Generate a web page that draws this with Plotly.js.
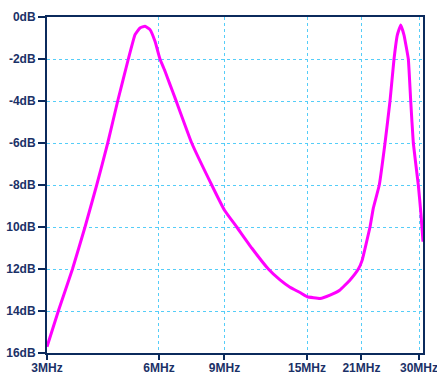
<!DOCTYPE html>
<html>
<head>
<meta charset="utf-8">
<script src="https://cdn.plot.ly/plotly-3.0.1.min.js"></script>
<style>html,body{margin:0;padding:0;background:#fff;}#chart{width:437px;height:376px;}</style>
</head>
<body>
<div id="chart"></div>
<script>
// Frequency in MHz
var freqMHz = [3.000, 3.218, 3.513, 3.796, 4.081, 4.369, 4.647, 4.963, 5.173, 5.335, 5.502, 5.675, 5.854, 6.037, 6.229, 6.424, 6.626, 7.347, 8.316, 9.000, 9.707, 10.651, 11.807, 12.690, 13.499, 14.359, 15.020, 16.260, 17.295, 18.400, 19.577, 20.610, 21.085, 22.150, 22.610, 23.460, 24.310, 25.070, 25.700, 26.230, 26.790, 27.340, 28.080, 28.500, 28.960, 29.870, 30.370, 30.750];
// Magnitude in dB
var magDB = [-15.7, -14.0, -12.0, -10.0, -8.0, -6.0, -4.0, -2.0, -0.84, -0.52, -0.44, -0.6, -1.16, -2.0, -2.58, -3.22, -3.85, -6.0, -8.0, -9.2, -10.0, -11.0, -12.0, -12.52, -12.87, -13.12, -13.32, -13.4, -13.24, -13.0, -12.52, -12.0, -11.6, -10.0, -9.1, -8.0, -6.0, -4.0, -2.0, -0.86, -0.38, -0.86, -2.0, -4.0, -6.0, -8.0, -9.4, -10.7];

var xTickVals = [3, 6, 9, 15, 21, 30];
var xTickText = ['3MHz', '6MHz', '9MHz', '15MHz', '21MHz', '30MHz'];
var yTickVals = [0, -2, -4, -6, -8, -10, -12, -14, -16];
var yTickText = ['0dB', '-2dB', '-4dB', '-6dB', '-8dB', '10dB', '12dB', '14dB', '16dB'];

var axisColor = '#0b2a5c';
var textColor = '#1b3167';
var gridColor = '#55cdf8';
var tickFont = {family: 'Liberation Sans, Arial, sans-serif', size: 12, color: textColor, weight: 'bold'};

var trace = {
  x: freqMHz, y: magDB, type: 'scatter', mode: 'lines',
  line: {color: '#ff00ff', width: 3, shape: 'spline', smoothing: 0.3},
  hoverinfo: 'none', cliponaxis: true
};

var layout = {
  width: 437, height: 376,
  margin: {l: 47, r: 14, t: 17, b: 23},
  paper_bgcolor: '#ffffff', plot_bgcolor: '#ffffff',
  showlegend: false,
  font: tickFont,
  xaxis: {
    type: 'log',
    range: [Math.log10(3), Math.log10(30.75)],
    tickmode: 'array', tickvals: xTickVals, ticktext: xTickText,
    showline: true, linecolor: axisColor, linewidth: 2, mirror: true,
    ticks: 'outside', ticklen: 5, tickwidth: 2, tickcolor: axisColor,
    ticklabelstandoff: -2, ticklabeloverflow: 'allow',
    showgrid: true, gridcolor: gridColor, gridwidth: 1, griddash: '3px,3px',
    zeroline: false,
    tickfont: tickFont
  },
  yaxis: {
    range: [-16, 0],
    tickmode: 'array', tickvals: yTickVals, ticktext: yTickText,
    showline: true, linecolor: axisColor, linewidth: 2, mirror: true,
    ticks: 'outside', ticklen: 7, tickwidth: 2, tickcolor: axisColor,
    ticklabeloverflow: 'allow',
    showgrid: true, gridcolor: gridColor, gridwidth: 1, griddash: '3px,3px',
    zeroline: false, ticklabelstandoff: 0,
    tickfont: tickFont
  }
};

Plotly.newPlot('chart', [trace], layout, {staticPlot: true, displayModeBar: false});
</script>
</body>
</html>
